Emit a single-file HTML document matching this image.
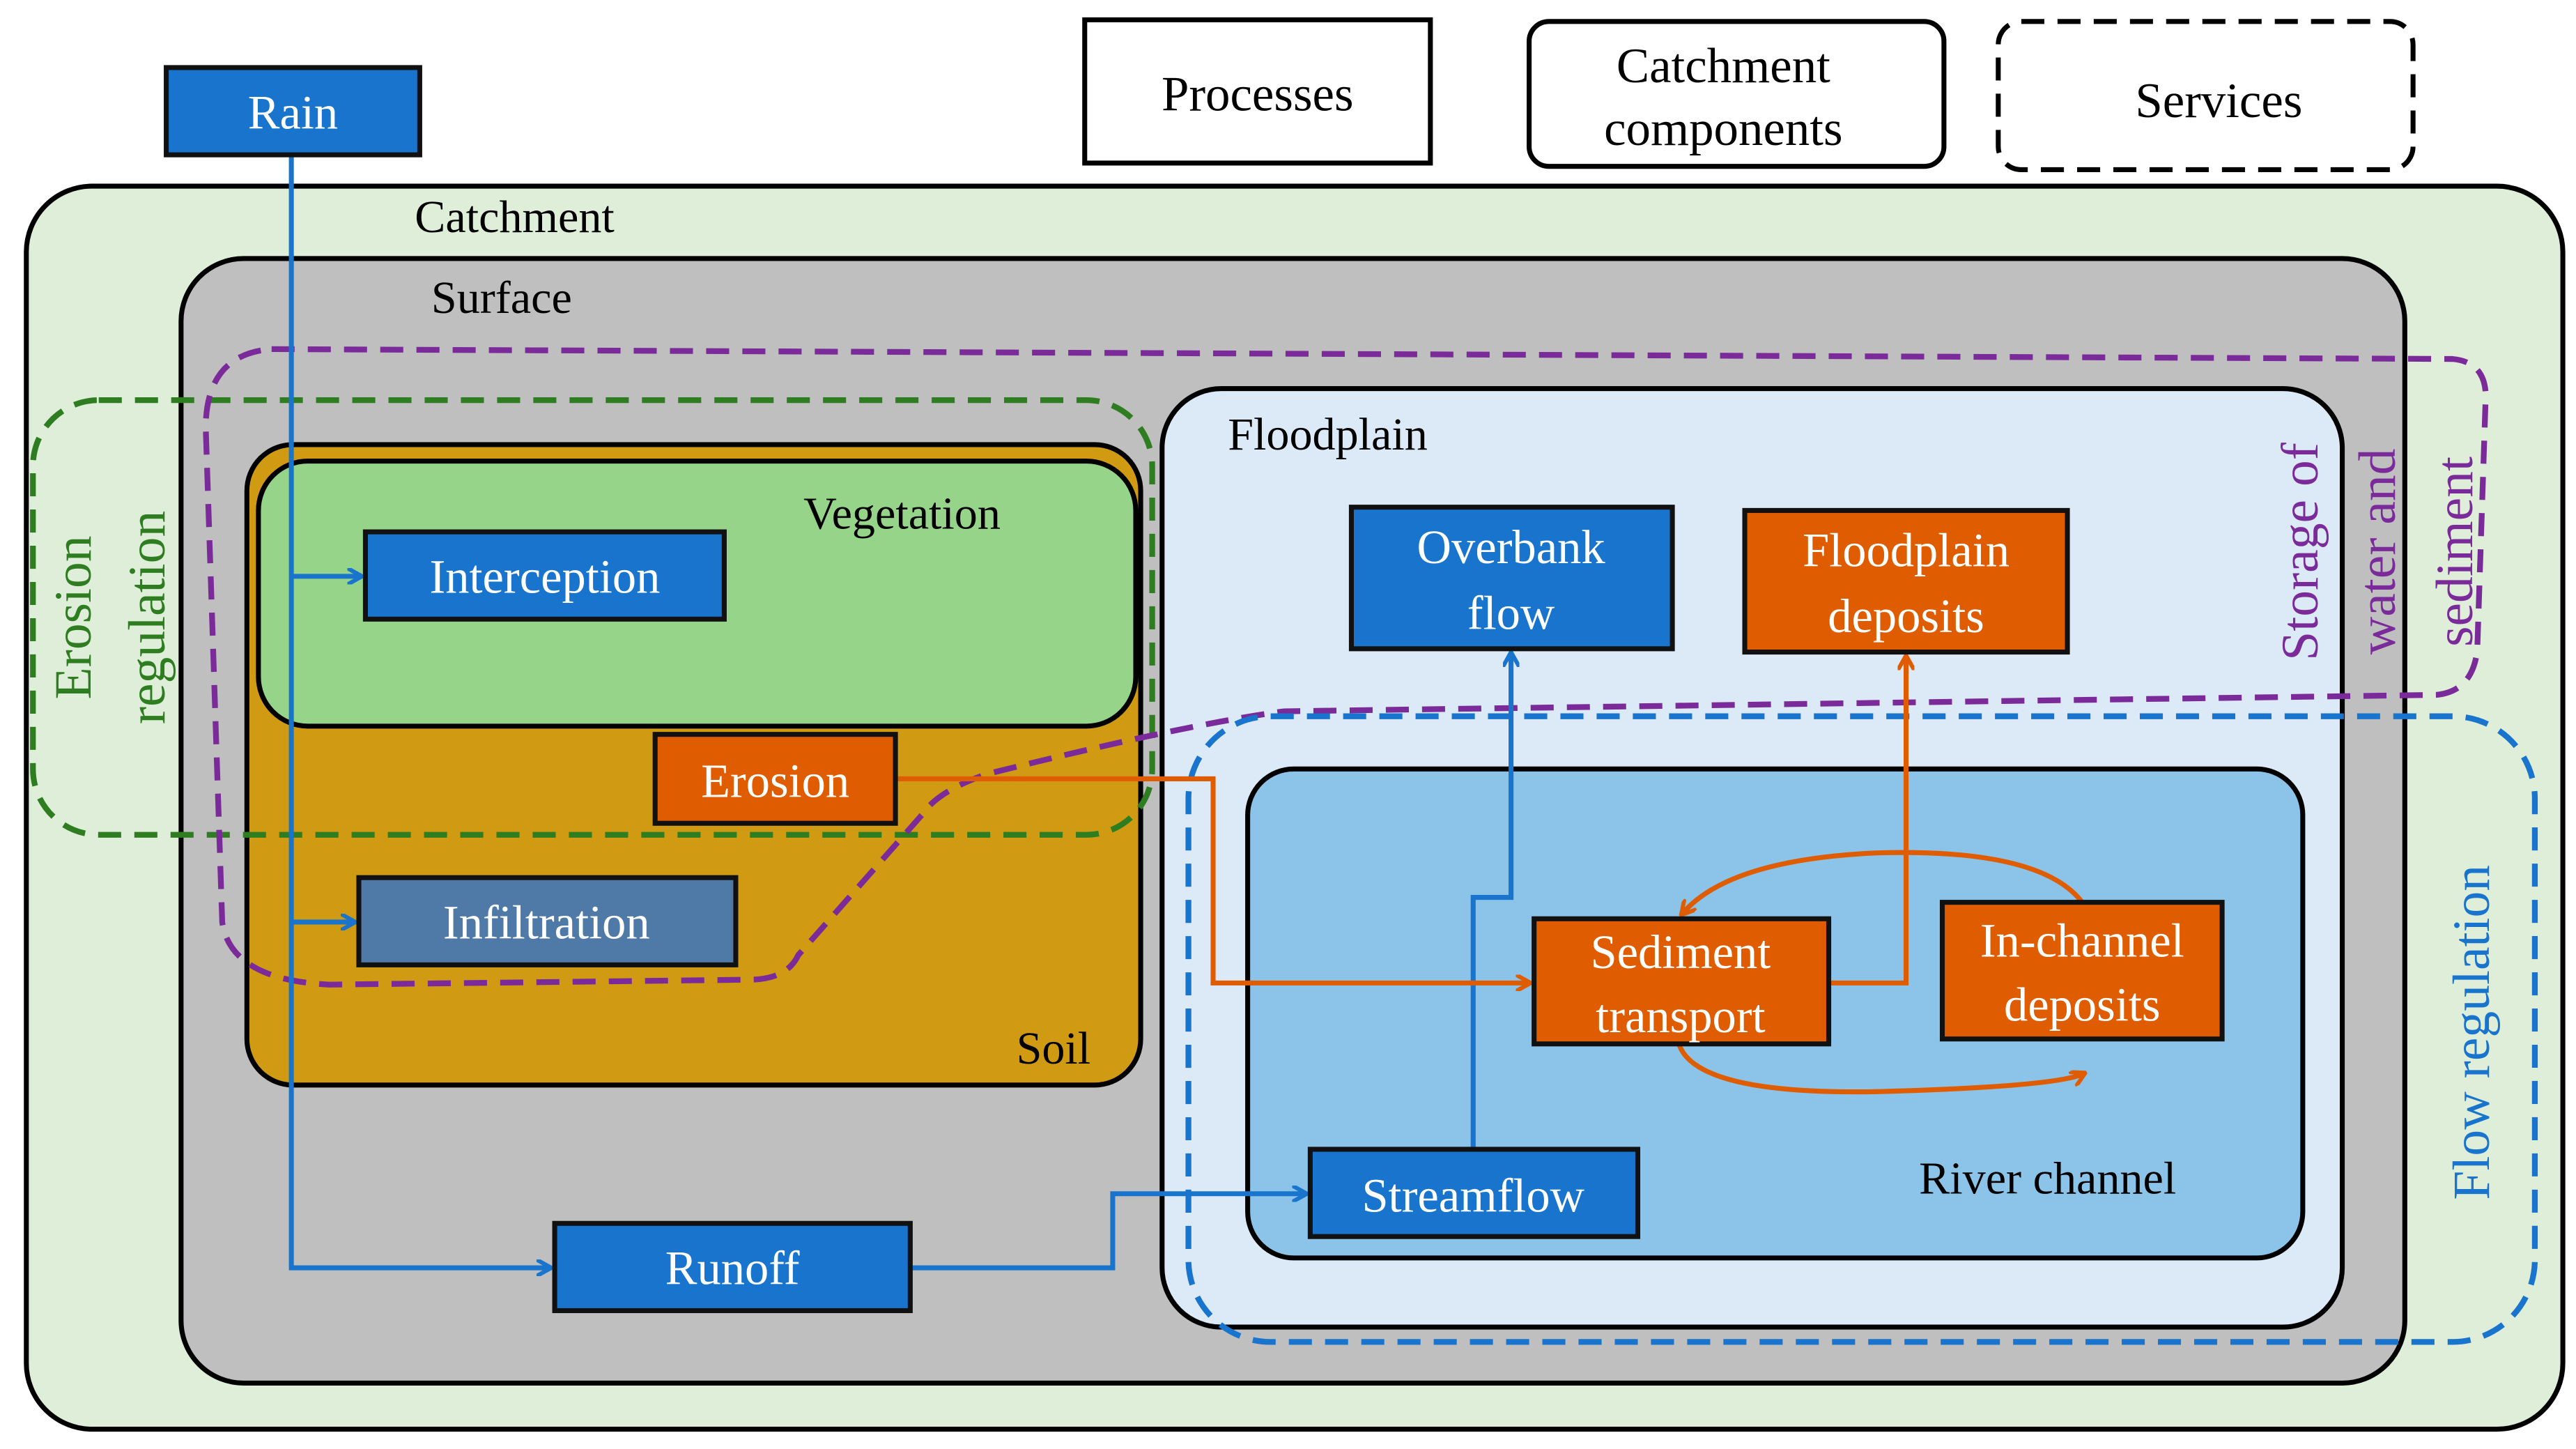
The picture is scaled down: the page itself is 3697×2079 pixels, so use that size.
<!DOCTYPE html>
<html><head><meta charset="utf-8"><style>html,body{margin:0;padding:0;background:#fff}svg{display:block}</style></head>
<body>
<svg width="3697" height="2079" viewBox="0 0 1565 880" xmlns="http://www.w3.org/2000/svg" font-family="Liberation Serif, serif">
<defs>
<marker id="ab" markerWidth="10" markerHeight="10" refX="8" refY="5" orient="auto" markerUnits="userSpaceOnUse"><path d="M0,0 L9,5 L0,10" fill="none" stroke="#1874cd" stroke-width="2.5"/></marker>
<marker id="ao" markerWidth="10" markerHeight="10" refX="8" refY="5" orient="auto" markerUnits="userSpaceOnUse"><path d="M0,0 L9,5 L0,10" fill="none" stroke="#e05c00" stroke-width="2.5"/></marker>
</defs>
<rect width="1565" height="880" fill="#fff"/>
<!-- legend -->
<rect x="659" y="12" width="210" height="87" fill="#fff" stroke="#000" stroke-width="3"/>
<text x="764" y="67" font-size="30" text-anchor="middle">Processes</text>
<rect x="929" y="13" width="252" height="88" rx="12" fill="#fff" stroke="#000" stroke-width="3"/>
<text x="1047" y="50" font-size="30" text-anchor="middle">Catchment</text>
<text x="1047" y="88" font-size="30" text-anchor="middle">components</text>
<rect x="1214" y="13" width="252" height="90" rx="14" fill="#fff" stroke="#000" stroke-width="3" stroke-dasharray="14,8"/>
<text x="1348" y="71" font-size="30" text-anchor="middle">Services</text>
<!-- containers -->
<rect x="16" y="113" width="1541" height="755" rx="40" fill="#deeed8" stroke="#000" stroke-width="3"/>
<text x="252" y="141" font-size="28">Catchment</text>
<rect x="110" y="157" width="1351" height="683" rx="38" fill="#bfbfbf" stroke="#000" stroke-width="3"/>
<text x="262" y="190" font-size="28">Surface</text>
<rect x="150" y="270" width="543" height="389" rx="28" fill="#d09a12" stroke="#000" stroke-width="3"/>
<text x="640" y="646" font-size="28" text-anchor="middle">Soil</text>
<rect x="157" y="280" width="533" height="161" rx="30" fill="#96d48a" stroke="#000" stroke-width="3"/>
<text x="548" y="321" font-size="28" text-anchor="middle">Vegetation</text>
<rect x="706" y="236" width="717" height="570" rx="36" fill="#dce9f6" stroke="#000" stroke-width="3"/>
<text x="746" y="273" font-size="28">Floodplain</text>
<rect x="758" y="467" width="641" height="297" rx="28" fill="#8cc3e8" stroke="#000" stroke-width="3"/>
<text x="1244" y="725" font-size="28" text-anchor="middle">River channel</text>
<!-- dashed services -->
<rect x="20" y="243" width="680" height="264" rx="40" fill="none" stroke="#2e7d20" stroke-width="3.5" stroke-dasharray="14,8"/>
<text transform="translate(55,375) rotate(-90)" font-size="32" fill="#2e7d20" text-anchor="middle">Erosion</text>
<text transform="translate(100,375) rotate(-90)" font-size="32" fill="#2e7d20" text-anchor="middle">regulation</text>
<path d="M165,212 L1490,218 Q1512,220 1510,245 L1505,395 Q1502,420 1480,422 L780,432 Q720,440 600,470 Q570,480 560,495 L485,580 Q478,595 455,595 L200,598 Q140,595 135,560 L125,260 Q125,215 165,212 Z" fill="none" stroke="#7b2a9a" stroke-width="3.5" stroke-dasharray="14,8"/>
<text transform="translate(1408,335) rotate(-90)" font-size="32" fill="#7b2a9a" text-anchor="middle">Storage of</text>
<text transform="translate(1455,335) rotate(-90)" font-size="32" fill="#7b2a9a" text-anchor="middle">water and</text>
<text transform="translate(1502,335) rotate(-90)" font-size="32" fill="#7b2a9a" text-anchor="middle">sediment</text>
<rect x="722" y="435" width="818" height="380" rx="50" fill="none" stroke="#1874cd" stroke-width="3.5" stroke-dasharray="14,8"/>
<text transform="translate(1512,627) rotate(-90)" font-size="32" fill="#1874cd" text-anchor="middle">Flow regulation</text>
<!-- connectors -->
<g fill="none" stroke="#1874cd" stroke-width="3">
<path d="M177,94 L177,770 L334,770" marker-end="url(#ab)"/>
<path d="M177,350 L219,350" marker-end="url(#ab)"/>
<path d="M177,560 L215,560" marker-end="url(#ab)"/>
<path d="M553,770 L676,770 L676,725 L793,725" marker-end="url(#ab)"/>
<path d="M895,698 L895,545 L918,545 L918,397" marker-end="url(#ab)"/>
</g>
<g fill="none" stroke="#e05c00" stroke-width="3">
<path d="M544,473 L737,473 L737,597 L929,597" marker-end="url(#ao)"/>
<path d="M1111,597 L1158,597 L1158,399" marker-end="url(#ao)"/>
<path d="M1265,548 Q1240,515 1140,518 Q1050,522 1022,555" marker-end="url(#ao)"/>
<path d="M1020,634 Q1030,665 1140,663 Q1250,660 1266,652" marker-end="url(#ao)"/>
</g>
<!-- process boxes -->
<g stroke="#111" stroke-width="3">
<rect x="101" y="41" width="154" height="53" fill="#1874cd"/>
<rect x="222" y="323" width="218" height="53" fill="#1874cd"/>
<rect x="398" y="446" width="146" height="54" fill="#e05c00"/>
<rect x="218" y="533" width="229" height="53" fill="#4f7aa8"/>
<rect x="337" y="743" width="216" height="53" fill="#1874cd"/>
<rect x="796" y="698" width="199" height="53" fill="#1874cd"/>
<rect x="821" y="308" width="195" height="86" fill="#1874cd"/>
<rect x="1060" y="310" width="196" height="86" fill="#e05c00"/>
<rect x="932" y="558" width="179" height="76" fill="#e05c00"/>
<rect x="1180" y="548" width="170" height="83" fill="#e05c00"/>
</g>
<g fill="#fff" font-size="29" text-anchor="middle">
<text x="178" y="78">Rain</text>
<text x="331" y="360">Interception</text>
<text x="471" y="484">Erosion</text>
<text x="332" y="570">Infiltration</text>
<text x="445" y="780">Runoff</text>
<text x="895" y="736">Streamflow</text>
<text x="918" y="342">Overbank</text>
<text x="918" y="382">flow</text>
<text x="1158" y="344">Floodplain</text>
<text x="1158" y="384">deposits</text>
<text x="1021" y="588">Sediment</text>
<text x="1021" y="627">transport</text>
<text x="1265" y="581">In-channel</text>
<text x="1265" y="620">deposits</text>
</g>
</svg>
</body></html>
